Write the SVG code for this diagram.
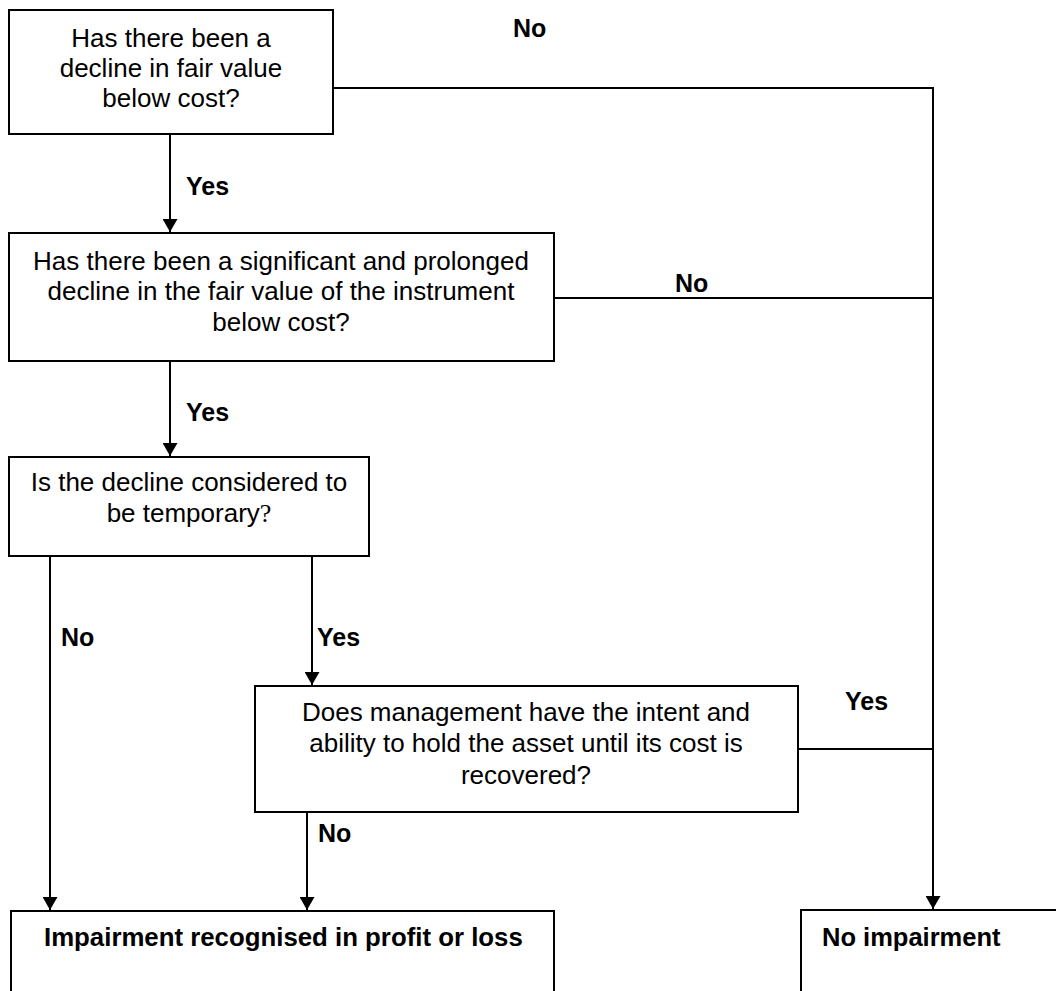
<svg xmlns="http://www.w3.org/2000/svg" width="1056" height="991" viewBox="0 0 1056 991">
<defs>
<style>
.box{fill:#fff;stroke:#000;stroke-width:2}
.t{font-family:"Liberation Sans",Arial,sans-serif;font-size:26px;fill:#000;text-anchor:middle}
.b{font-family:"Liberation Sans",Arial,sans-serif;font-size:25px;font-weight:bold;fill:#000}
.c{fill:none;stroke:#000;stroke-width:2}
</style>
<marker id="ah" viewBox="0 0 13 15" refX="13" refY="7.5" markerWidth="13" markerHeight="15" markerUnits="userSpaceOnUse" orient="auto">
<path d="M0,0 L13,7.5 L0,15 z" fill="#000"/>
</marker>
</defs>
<rect width="1056" height="991" fill="#fff"/>
<g id="connectors">
<line class="c" x1="170" y1="134" x2="170" y2="232" marker-end="url(#ah)"/>
<line class="c" x1="170" y1="361" x2="170" y2="456" marker-end="url(#ah)"/>
<polyline class="c" points="333,88 933,88 933,909" marker-end="url(#ah)"/>
<line class="c" x1="554" y1="298" x2="933" y2="298"/>
<line class="c" x1="798" y1="749" x2="933" y2="749"/>
<line class="c" x1="50" y1="556" x2="50" y2="910" marker-end="url(#ah)"/>
<line class="c" x1="312" y1="556" x2="312" y2="685" marker-end="url(#ah)"/>
<line class="c" x1="307" y1="812" x2="307" y2="910" marker-end="url(#ah)"/>
<text class="b" x="513" y="37">No</text>
<text class="b" x="186" y="195">Yes</text>
<text class="b" x="675" y="292">No</text>
<text class="b" x="186" y="421">Yes</text>
<text class="b" x="61" y="646">No</text>
<text class="b" x="317" y="646">Yes</text>
<text class="b" x="845" y="710">Yes</text>
<text class="b" x="318" y="842">No</text>
</g>
<g id="q1">
<rect class="box" x="9" y="10" width="324" height="124"/>
<text class="t" x="171" y="47">Has there been a</text>
<text class="t" x="171" y="77">decline in fair value</text>
<text class="t" x="171" y="107">below cost?</text>
</g>
<g id="q2">
<rect class="box" x="9" y="233" width="545" height="128"/>
<text class="t" x="281" y="270">Has there been a significant and prolonged</text>
<text class="t" x="281" y="300">decline in the fair value of the instrument</text>
<text class="t" x="281" y="331">below cost?</text>
</g>
<g id="q3">
<rect class="box" x="9" y="457" width="360" height="99"/>
<text class="t" x="189" y="491">Is the decline considered to</text>
<text class="t" x="189" y="522">be temporary<tspan font-family="'Liberation Serif',serif">?</tspan></text>
</g>
<g id="q4">
<rect class="box" x="255" y="686" width="543" height="126"/>
<text class="t" x="526" y="721">Does management have the intent and</text>
<text class="t" x="526" y="752">ability to hold the asset until its cost is</text>
<text class="t" x="526" y="784">recovered?</text>
</g>
<g id="impairment">
<rect class="box" x="11" y="911" width="543" height="100"/>
<text class="b" x="44" y="946" style="font-size:25.8px">Impairment recognised in profit or loss</text>
</g>
<g id="no-impairment">
<rect class="box" x="801" y="910" width="280" height="100"/>
<text class="b" x="822" y="946" style="font-size:25.5px">No impairment</text>
</g>
</svg>
